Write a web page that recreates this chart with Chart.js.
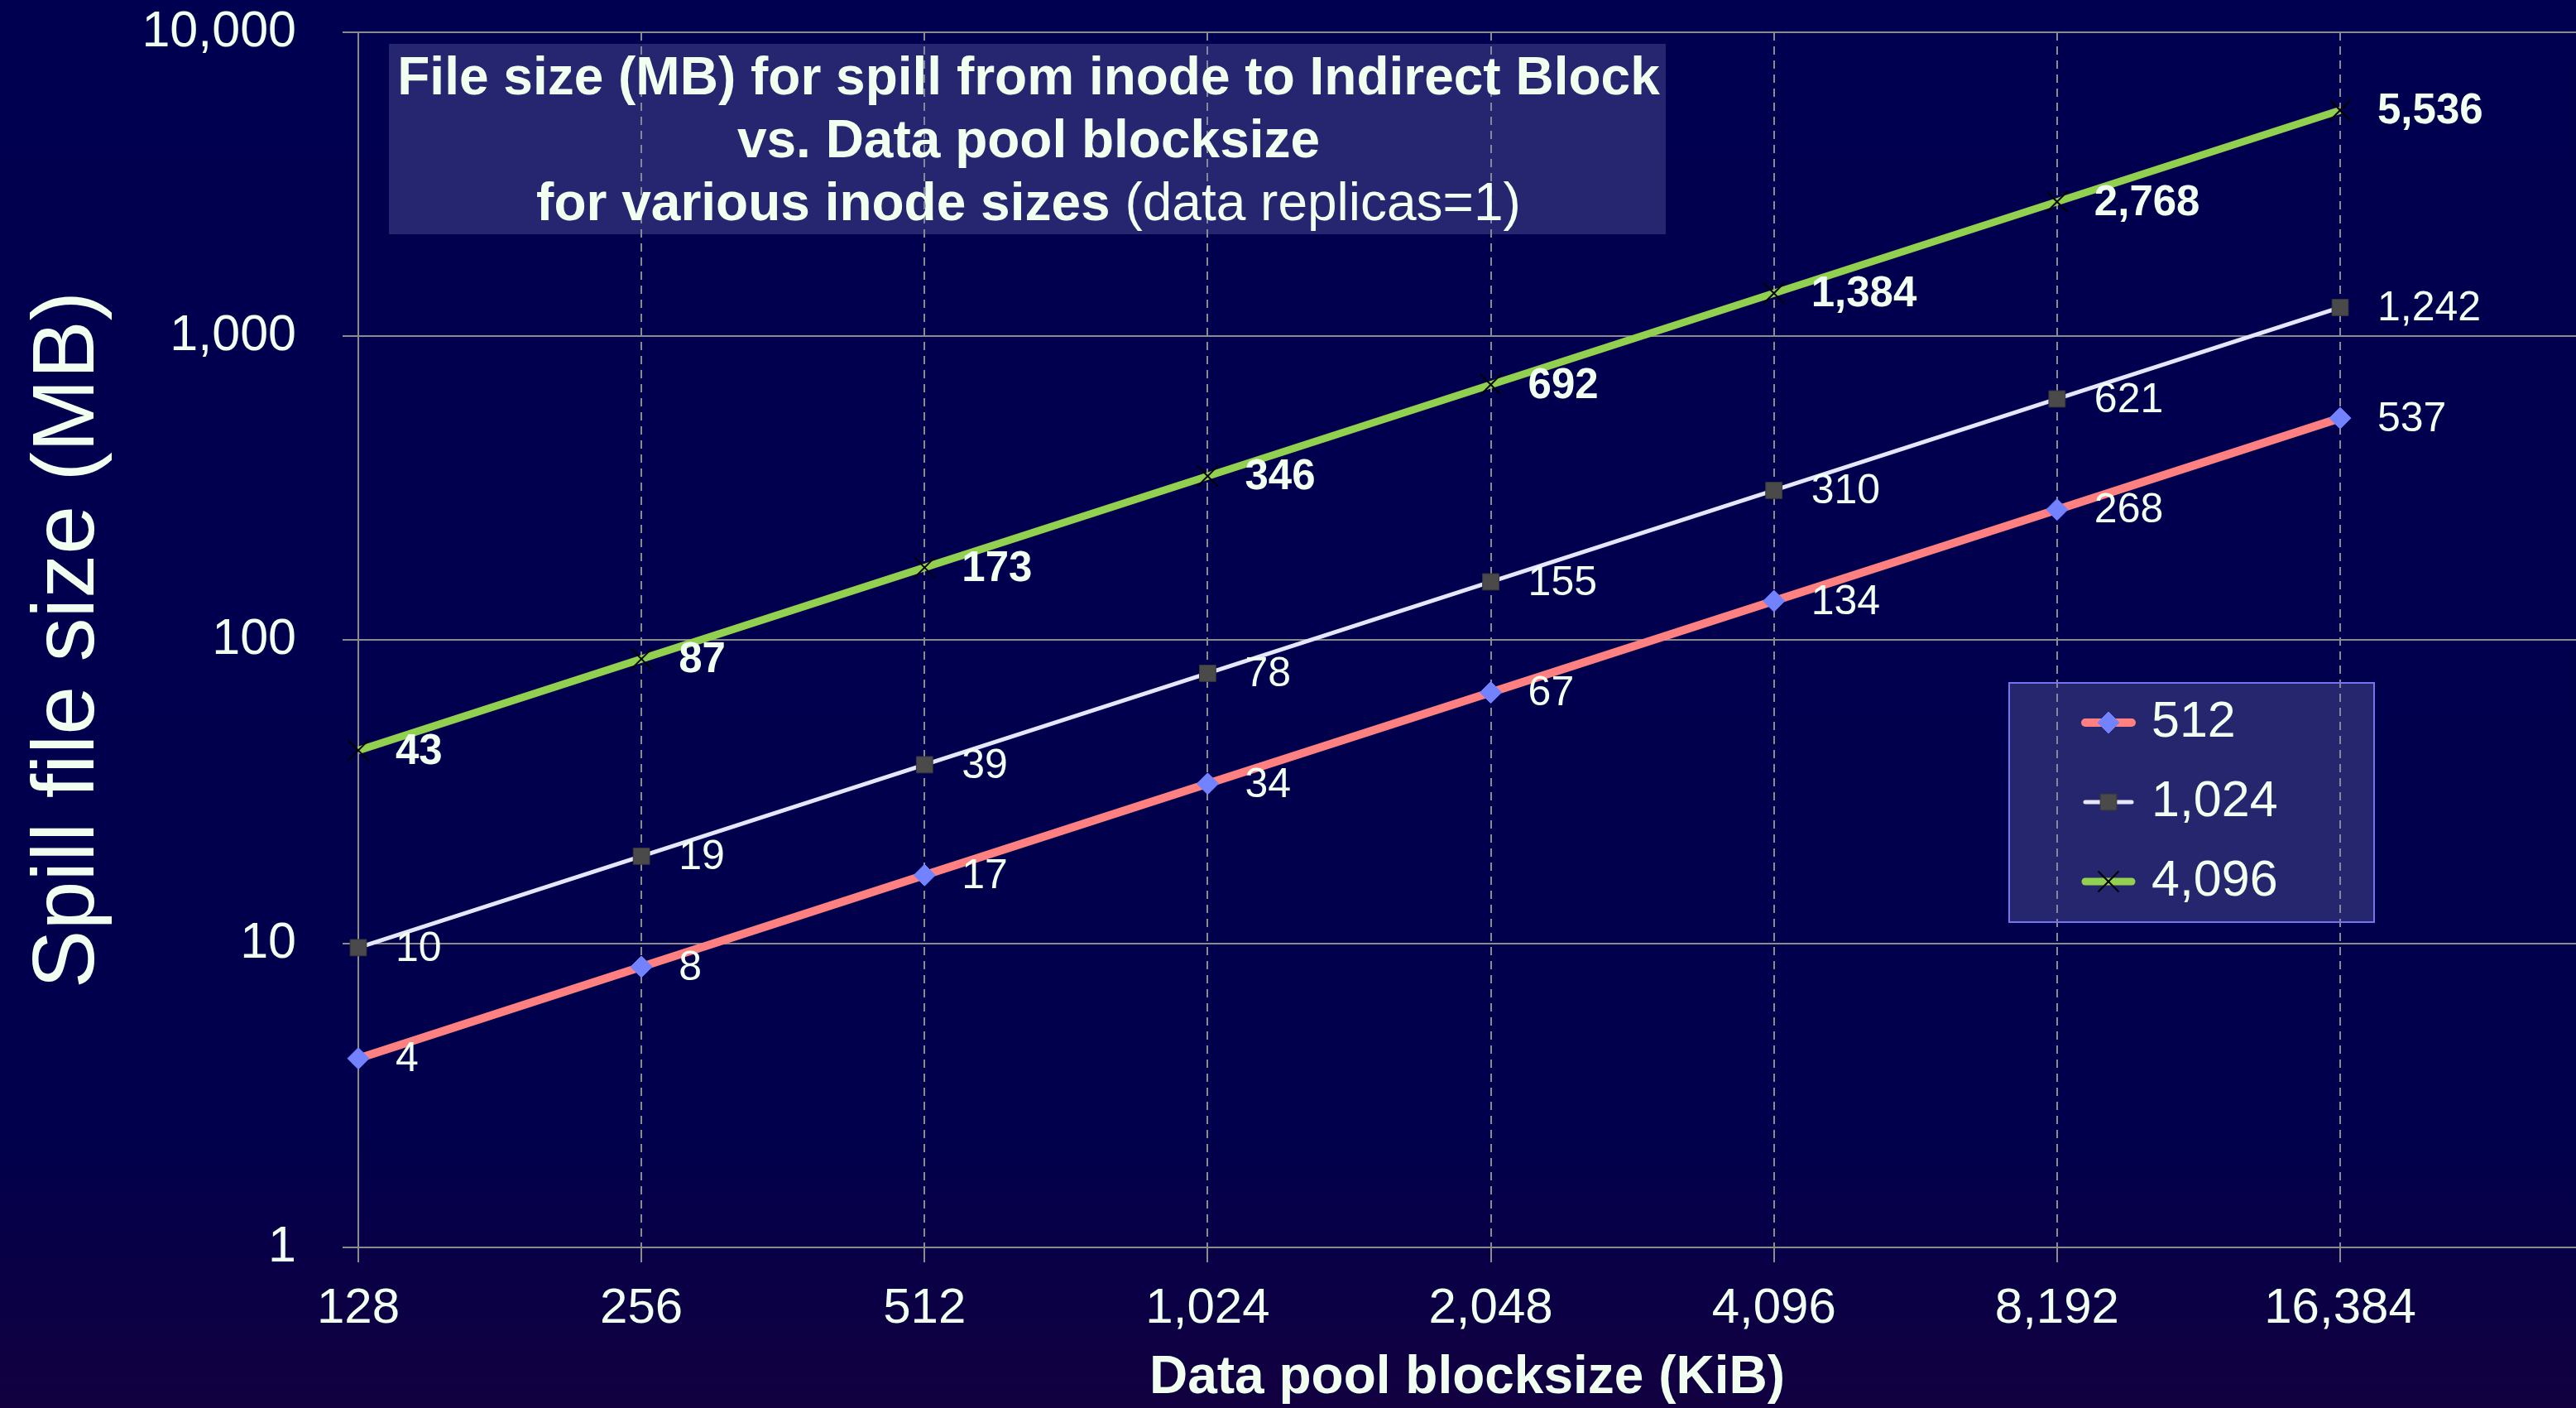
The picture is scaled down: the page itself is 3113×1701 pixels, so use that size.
<!DOCTYPE html>
<html>
<head>
<meta charset="utf-8">
<script src="https://cdn.jsdelivr.net/npm/chart.js@4.4.0/dist/chart.umd.min.js"></script>
<style>
  html, body { margin: 0; padding: 0; background: #000050; overflow: hidden; }
</style>
</head>
<body>
<canvas id="spillChart" width="3113" height="1701"></canvas>
<script>
// x categories (data pool blocksize, KiB)
const blockSizes = ['128', '256', '512', '1,024', '2,048', '4,096', '8,192', '16,384'];
// spill file size (MB) per inode size
const inode512 = [4.19, 8.39, 16.8, 33.6, 67.1, 134.2, 268.4, 536.9];
const inode1024 = [9.70, 19.4, 38.8, 77.6, 155.2, 310.4, 621, 1242];
const inode4096 = [43.25, 86.5, 173, 346, 692, 1384, 2768, 5536];
const seriesNames = ['512', '1,024', '4,096'];
const yTicks = [1, 10, 100, 1000, 10000];

const fontFamily = '"Liberation Sans", Arial, sans-serif';
const textColor = '#f0fff0';
const gridColor = '#8c8c8c';

function toPoints(values) {
  return values.map((v, i) => ({ x: i, y: v }));
}

function fmt(v) {
  return Math.round(v).toLocaleString('en-US');
}

// draws one of the three marker shapes
function drawMarker(ctx, ds, x, y) {
  const r = ds.pointRadius;
  ctx.save();
  ctx.fillStyle = ds.pointBackgroundColor;
  ctx.strokeStyle = ds.pointBorderColor;
  ctx.lineWidth = ds.pointBorderWidth;
  ctx.beginPath();
  if (ds.pointStyle === 'rectRot') {
    ctx.moveTo(x, y - r);
    ctx.lineTo(x + r, y);
    ctx.lineTo(x, y + r);
    ctx.lineTo(x - r, y);
    ctx.closePath();
    ctx.fill();
    ctx.stroke();
  } else if (ds.pointStyle === 'rect') {
    const h = r * Math.SQRT1_2;
    ctx.rect(x - h, y - h, 2 * h, 2 * h);
    ctx.fill();
    ctx.stroke();
  } else {
    const h = r * Math.SQRT1_2;
    ctx.moveTo(x - h, y - h);
    ctx.lineTo(x + h, y + h);
    ctx.moveTo(x + h, y - h);
    ctx.lineTo(x - h, y + h);
    ctx.stroke();
  }
  ctx.restore();
}

const backgroundPlugin = {
  id: 'background',
  beforeDraw(chart) {
    const ctx = chart.ctx;
    const g = ctx.createLinearGradient(0, 0, 0, chart.height);
    g.addColorStop(0, '#000050');
    g.addColorStop(0.8, '#00004c');
    g.addColorStop(1, '#120040');
    ctx.save();
    ctx.fillStyle = g;
    ctx.fillRect(0, 0, chart.width, chart.height);
    ctx.restore();
  }
};

const boxesPlugin = {
  id: 'boxes',
  beforeDatasetsDraw(chart) {
    const ctx = chart.ctx;
    ctx.save();
    ctx.fillStyle = 'rgba(125, 125, 190, 0.3)';
    ctx.fillRect(470, 53, 1543, 230);
    ctx.fillRect(2428, 825, 441, 289);
    ctx.strokeStyle = '#7474ec';
    ctx.lineWidth = 2;
    ctx.strokeRect(2428, 825, 441, 289);
    ctx.restore();
  },
  afterDraw(chart) {
    const ctx = chart.ctx;
    const cx = 1243;
    ctx.save();
    ctx.fillStyle = textColor;
    ctx.textBaseline = 'middle';
    ctx.textAlign = 'center';
    const bold = 'bold 64px ' + fontFamily;
    const normal = '64px ' + fontFamily;
    ctx.font = bold;
    ctx.fillText('File size (MB) for spill from inode to Indirect Block', cx, 96);
    ctx.fillText('vs. Data pool blocksize', cx, 172);
    // third line mixes bold and normal
    const partA = 'for various inode sizes ';
    const partB = '(data replicas=1)';
    const wA = ctx.measureText(partA).width;
    ctx.font = normal;
    const wB = ctx.measureText(partB).width;
    const start = cx - (wA + wB) / 2;
    ctx.textAlign = 'left';
    ctx.font = bold;
    ctx.fillText(partA, start, 248);
    ctx.font = normal;
    ctx.fillText(partB, start + wA, 248);

    // legend
    chart.data.datasets.forEach((ds, i) => {
      const y = 873 + i * 96;
      ctx.save();
      ctx.strokeStyle = ds.borderColor;
      ctx.lineWidth = ds.borderWidth;
      ctx.lineCap = 'round';
      ctx.beginPath();
      ctx.moveTo(2520, y);
      ctx.lineTo(2576, y);
      ctx.stroke();
      ctx.restore();
      drawMarker(ctx, ds, 2548, y);
      ctx.fillStyle = textColor;
      ctx.font = '61px ' + fontFamily;
      ctx.textAlign = 'left';
      ctx.fillText(ds.label, 2600, y);
    });
    ctx.restore();
  }
};

const valueLabelsPlugin = {
  id: 'valueLabels',
  afterDatasetsDraw(chart) {
    const ctx = chart.ctx;
    ctx.save();
    ctx.fillStyle = textColor;
    ctx.textAlign = 'left';
    ctx.textBaseline = 'middle';
    chart.data.datasets.forEach((ds, i) => {
      const meta = chart.getDatasetMeta(i);
      ctx.font = (ds.labelBold ? 'bold 51px ' : '50px ') + fontFamily;
      meta.data.forEach((pt, j) => {
        ctx.fillText(fmt(ds.data[j].y), pt.x + 45, pt.y + 2);
      });
    });
    ctx.restore();
  }
};

const ctx = document.getElementById('spillChart').getContext('2d');
new Chart(ctx, {
  type: 'line',
  data: {
    datasets: [
      {
        label: seriesNames[0],
        data: toPoints(inode512),
        borderColor: '#ff8080',
        borderWidth: 10,
        pointStyle: 'rectRot',
        pointRadius: 13,
        pointBackgroundColor: '#7382ff',
        pointBorderColor: '#7382ff',
        pointBorderWidth: 1,
        labelBold: false
      },
      {
        label: seriesNames[1],
        data: toPoints(inode1024),
        borderColor: '#e6e6ff',
        borderWidth: 5,
        pointStyle: 'rect',
        pointRadius: 14,
        pointBackgroundColor: '#4a4a4a',
        pointBorderColor: '#383838',
        pointBorderWidth: 1,
        labelBold: false
      },
      {
        label: seriesNames[2],
        data: toPoints(inode4096),
        borderColor: '#92d050',
        borderWidth: 9,
        pointStyle: 'crossRot',
        pointRadius: 17.7,
        pointBackgroundColor: '#000000',
        pointBorderColor: '#000000',
        pointBorderWidth: 2,
        labelBold: true
      }
    ]
  },
  options: {
    responsive: false,
    animation: false,
    layout: { autoPadding: false, padding: { top: 39, right: 0, bottom: 0, left: 0 } },
    datasets: { line: { tension: 0, clip: false, fill: false } },
    plugins: {
      legend: { display: false },
      tooltip: { enabled: false }
    },
    scales: {
      x: {
        type: 'linear',
        min: 0,
        max: 7.833,
        afterBuildTicks: (scale) => { scale.ticks = blockSizes.map((_, i) => ({ value: i })); },
        afterFit: (scale) => {
          scale.height = 194;
          scale.paddingLeft = 0;
          scale.paddingRight = 0;
        },
        ticks: {
          callback: (v) => blockSizes[v],
          color: textColor,
          font: { size: 60, family: fontFamily },
          padding: 20,
          maxRotation: 0,
          autoSkip: false
        },
        grid: { color: gridColor, lineWidth: 2, tickLength: 18, tickColor: gridColor },
        border: {
          display: false,
          dash: (c) => (c.tick && c.tick.value > 0 ? [10, 7] : [])
        },
        title: {
          display: true,
          text: 'Data pool blocksize (KiB)',
          color: textColor,
          font: { size: 64, weight: 'bold', family: fontFamily, lineHeight: 1.1 },
          padding: { top: 0, bottom: 0 }
        }
      },
      y: {
        type: 'logarithmic',
        min: 1,
        max: 10000,
        afterBuildTicks: (scale) => { scale.ticks = yTicks.map((v) => ({ value: v })); },
        afterFit: (scale) => {
          scale.width = 433;
          scale.paddingTop = 0;
          scale.paddingBottom = 0;
        },
        ticks: {
          callback: (v) => v.toLocaleString('en-US'),
          color: textColor,
          font: { size: 61, family: fontFamily },
          padding: 56
        },
        grid: { color: gridColor, lineWidth: 2, tickLength: 19, tickColor: gridColor },
        border: { display: false },
        title: {
          display: true,
          text: 'Spill file size (MB)',
          color: textColor,
          font: { size: 106, family: fontFamily, lineHeight: 1.2 },
          padding: { top: 20, bottom: 0 }
        }
      }
    }
  },
  plugins: [backgroundPlugin, boxesPlugin, valueLabelsPlugin]
});
</script>
</body>
</html>
